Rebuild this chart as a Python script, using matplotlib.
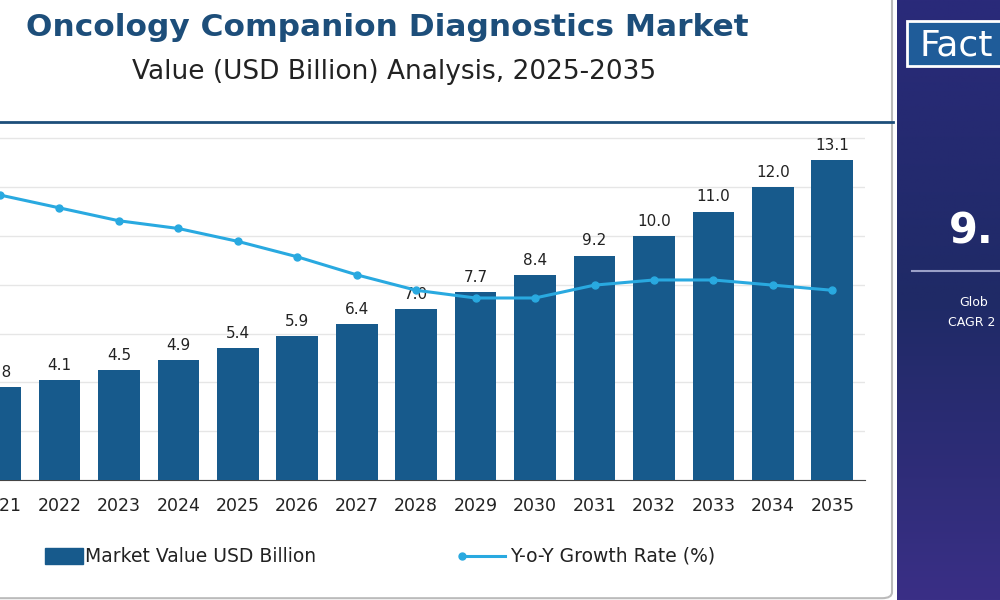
import matplotlib
matplotlib.use("Agg")
import matplotlib.pyplot as plt
import numpy as np
from matplotlib.patches import FancyBboxPatch, Rectangle
from matplotlib.colors import LinearSegmentedColormap

years = [2021, 2022, 2023, 2024, 2025, 2026, 2027, 2028, 2029, 2030, 2031, 2032, 2033, 2034, 2035]
values = [3.8, 4.1, 4.5, 4.9, 5.4, 5.9, 6.4, 7.0, 7.7, 8.4, 9.2, 10.0, 11.0, 12.0, 13.1]
labels = ["3.8", "4.1", "4.5", "4.9", "5.4", "5.9", "6.4", "7.0", "7.7", "8.4", "9.2", "10.0", "11.0", "12.0", "13.1"]
growth = [11.0, 10.5, 10.0, 9.7, 9.2, 8.6, 7.9, 7.3, 7.0, 7.0, 7.5, 7.7, 7.7, 7.5, 7.3]

W, H = 1000, 600
fig = plt.figure(figsize=(10, 6), dpi=100)
fig.patch.set_facecolor("white")

axg = fig.add_axes([0.897, 0, 0.103, 1])
grad = np.linspace(0, 1, 256).reshape(-1, 1)
cm = LinearSegmentedColormap.from_list("g", ["#2a2a7a", "#1f2a66", "#3a2f86"])
axg.imshow(grad, aspect="auto", cmap=cm, extent=[0, 1, 0, 1])
axg.set_xlim(0, 1); axg.set_ylim(0, 1); axg.axis("off")
axg.add_patch(Rectangle((0.1, 0.89), 1.0, 0.075, facecolor="#1f5c99", edgecolor="white", lw=2))
axg.text(0.22, 0.925, "Fact", color="white", fontsize=26, va="center", ha="left")
axg.text(0.5, 0.615, "9.", color="white", fontsize=30, fontweight="bold", va="center", ha="left")
axg.plot([0.15, 1.0], [0.548, 0.548], color="#9aa0c8", lw=1.5)
axg.text(0.6, 0.495, "Glob", color="white", fontsize=9, va="center", ha="left")
axg.text(0.5, 0.462, "CAGR 2", color="white", fontsize=9, va="center", ha="left")

fig.patches.append(FancyBboxPatch((-0.02, 0.003), 0.912, 1.02, boxstyle="round,pad=0,rounding_size=0.01",
                                  transform=fig.transFigure, facecolor="none", edgecolor="#bbbbbb", lw=1.5))

ax = fig.add_axes([0.0, 0.2, 0.865, 355 / H])
ax.bar(years, values, width=0.7, color="#175a8c", zorder=3)
for x, v, l in zip(years, values, labels):
    ax.text(x, v + 0.3, l, ha="center", va="bottom", fontsize=11, color="#222222", clip_on=False, zorder=5)
ax.set_xlim(2021.08, 2035.55)
ax.set_ylim(0, 14.55)
ax.set_yticks([0, 2, 4, 6, 8, 10, 12, 14])
ax.yaxis.grid(True, color="#e6e6e6", lw=1, zorder=0)
ax.set_yticklabels([])
ax.tick_params(axis="y", length=0)
ax.set_xticks(years)
ax.set_xticklabels([str(y) for y in years], fontsize=12.5, color="#222222")
ax.tick_params(axis="x", length=0, pad=12)
for s in ["left", "right", "top"]:
    ax.spines[s].set_visible(False)
ax.spines["bottom"].set_color("#444444")

ax2 = ax.twinx()
ax2.plot(years, growth, color="#29a9e0", lw=2.2, marker="o", ms=5, zorder=6)
ax2.set_ylim(-0.07, 13.72)
ax2.axis("off")
ax.set_zorder(1); ax2.set_zorder(2); ax2.patch.set_visible(False)

fig.add_artist(plt.Line2D([0, 0.893], [1 - 122 / H, 1 - 122 / H], color="#1d4e7a", lw=2))

fig.text(0.387, 1 - 28 / H, "Oncology Companion Diagnostics Market", ha="center", va="center",
         fontsize=22.5, fontweight="bold", color="#1d4e7a")
fig.text(0.394, 1 - 72 / H, "Value (USD Billion) Analysis, 2025-2035", ha="center", va="center",
         fontsize=19, color="#222222")

fig.add_artist(Rectangle((0.045, 1 - 564 / H), 0.038, 16 / H, transform=fig.transFigure, color="#175a8c"))
fig.text(0.085, 1 - 556 / H, "Market Value USD Billion", va="center", fontsize=13.5, color="#222222")
fig.add_artist(plt.Line2D([0.462, 0.505], [1 - 556 / H] * 2, color="#29a9e0", lw=2.2, marker="o",
                          ms=5, markevery=[0], transform=fig.transFigure))
fig.text(0.51, 1 - 556 / H, "Y-o-Y Growth Rate (%)", va="center", fontsize=13.5, color="#222222")

fig.savefig("out.png", dpi=100)
